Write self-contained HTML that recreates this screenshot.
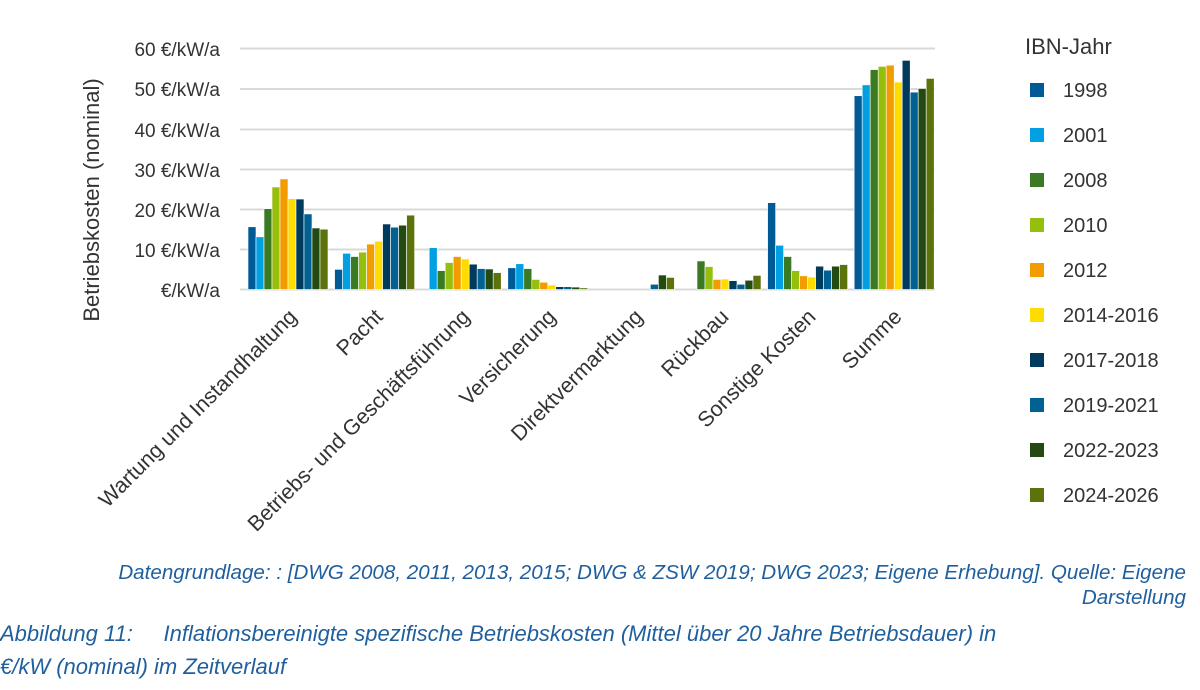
<!DOCTYPE html>
<html><head><meta charset="utf-8"><style>
body{margin:0;background:#fff;width:1200px;height:690px;overflow:hidden;font-family:"Liberation Sans",sans-serif}
svg{position:absolute;left:0;top:0}
.cap{position:absolute;font-style:italic;color:#1f5f9e;font-family:"Liberation Sans",sans-serif}
</style></head><body>
<svg width="1200" height="560" id="s" font-family="Liberation Sans, sans-serif">
<g stroke="#d9d9d9" stroke-width="2">
<line x1="240" y1="48.5" x2="935" y2="48.5"/><line x1="240" y1="89" x2="935" y2="89"/>
<line x1="240" y1="129.5" x2="935" y2="129.5"/><line x1="240" y1="169.5" x2="935" y2="169.5"/>
<line x1="240" y1="209.5" x2="935" y2="209.5"/><line x1="240" y1="249.5" x2="935" y2="249.5"/>
<line x1="240" y1="289.5" x2="935" y2="289.5"/>
</g>
<g font-size="19" fill="#333" text-anchor="end">
<text x="220" y="56">60 €/kW/a</text><text x="220" y="96">50 €/kW/a</text>
<text x="220" y="137">40 €/kW/a</text><text x="220" y="177">30 €/kW/a</text>
<text x="220" y="217">20 €/kW/a</text><text x="220" y="257">10 €/kW/a</text>
<text x="220" y="297">€/kW/a</text>
</g>
<text transform="translate(99,200) rotate(-90)" font-size="22" fill="#333" text-anchor="middle">Betriebskosten (nominal)</text>
<g id="bars"></g>
<g font-size="21.5" fill="#333" text-anchor="end">
<text transform="translate(298,318) rotate(-45)">Wartung und Instandhaltung</text>
<text transform="translate(384,318) rotate(-45)">Pacht</text>
<text transform="translate(471,318) rotate(-45)">Betriebs- und Geschäftsführung</text>
<text transform="translate(557,318) rotate(-45)">Versicherung</text>
<text transform="translate(644,318) rotate(-45)">Direktvermarktung</text>
<text transform="translate(730,318) rotate(-45)">Rückbau</text>
<text transform="translate(817,318) rotate(-45)">Sonstige Kosten</text>
<text transform="translate(903,318) rotate(-45)">Summe</text>
</g>
<text x="1025" y="54" font-size="22" fill="#333">IBN-Jahr</text>
<g id="leg" font-size="20" fill="#333">
<text x="1063" y="97">1998</text><text x="1063" y="142">2001</text><text x="1063" y="187">2008</text>
<text x="1063" y="232">2010</text><text x="1063" y="277">2012</text><text x="1063" y="322">2014-2016</text>
<text x="1063" y="367">2017-2018</text><text x="1063" y="412">2019-2021</text><text x="1063" y="457">2022-2023</text>
<text x="1063" y="502">2024-2026</text>
</g>
</svg>
<div class="cap" style="right:14px;top:560px;font-size:20.6px;text-align:right;line-height:25px;width:1180px">Datengrundlage: : [DWG 2008, 2011, 2013, 2015; DWG &amp; ZSW 2019; DWG 2023; Eigene Erhebung]. Quelle: Eigene<br>Darstellung</div>
<div class="cap" style="left:0;top:617px;font-size:22px;line-height:33px">Abbildung 11:&nbsp;&nbsp;&nbsp;&nbsp;&nbsp;Inflationsbereinigte spezifische Betriebskosten (Mittel über 20 Jahre Betriebsdauer) in<br>€/kW (nominal) im Zeitverlauf</div>
<script>
var C=["#005a96","#00a0e3","#3a7a23","#96bf0d","#f39c00","#ffdc00","#003a5d","#006192","#234a13","#5c720a"];
var D=[[15.6,13.1,20.1,25.5,27.5,22.6,22.5,18.8,15.3,15.0],
[5.0,9.0,8.2,9.3,11.3,12.0,16.3,15.5,16.0,18.5],
[0,10.4,4.7,6.7,8.2,7.6,6.3,5.2,5.1,4.2],
[5.4,6.4,5.2,2.5,1.8,1.1,0.7,0.7,0.6,0.4],
[0,0,0,0,0,0,0,1.3,3.6,3.0],
[0,0,7.1,5.7,2.5,2.6,2.2,1.3,2.3,3.5],
[21.6,11.0,8.2,4.7,3.4,3.1,5.8,4.8,5.8,6.2],
[48.2,50.9,54.7,55.5,55.8,51.6,57.0,49.1,50.0,52.5]];
var ns="http://www.w3.org/2000/svg",g=document.getElementById("bars"),s=document.getElementById("s");
for(var i=0;i<8;i++)for(var j=0;j<10;j++){var v=D[i][j];if(!v)continue;var h=v*4.02;
var r=document.createElementNS(ns,"rect");r.setAttribute("x",248+i*86.6+j*8);r.setAttribute("y",289.5-h);
r.setAttribute("width",8);r.setAttribute("height",h);r.setAttribute("fill",C[j]);r.setAttribute("stroke","#fff");r.setAttribute("stroke-width","0.6");g.appendChild(r);}
for(var j=0;j<10;j++){var r=document.createElementNS(ns,"rect");r.setAttribute("x",1030);r.setAttribute("y",83+45*j);
r.setAttribute("width",14);r.setAttribute("height",14);r.setAttribute("fill",C[j]);s.appendChild(r);}
</script>
</body></html>
